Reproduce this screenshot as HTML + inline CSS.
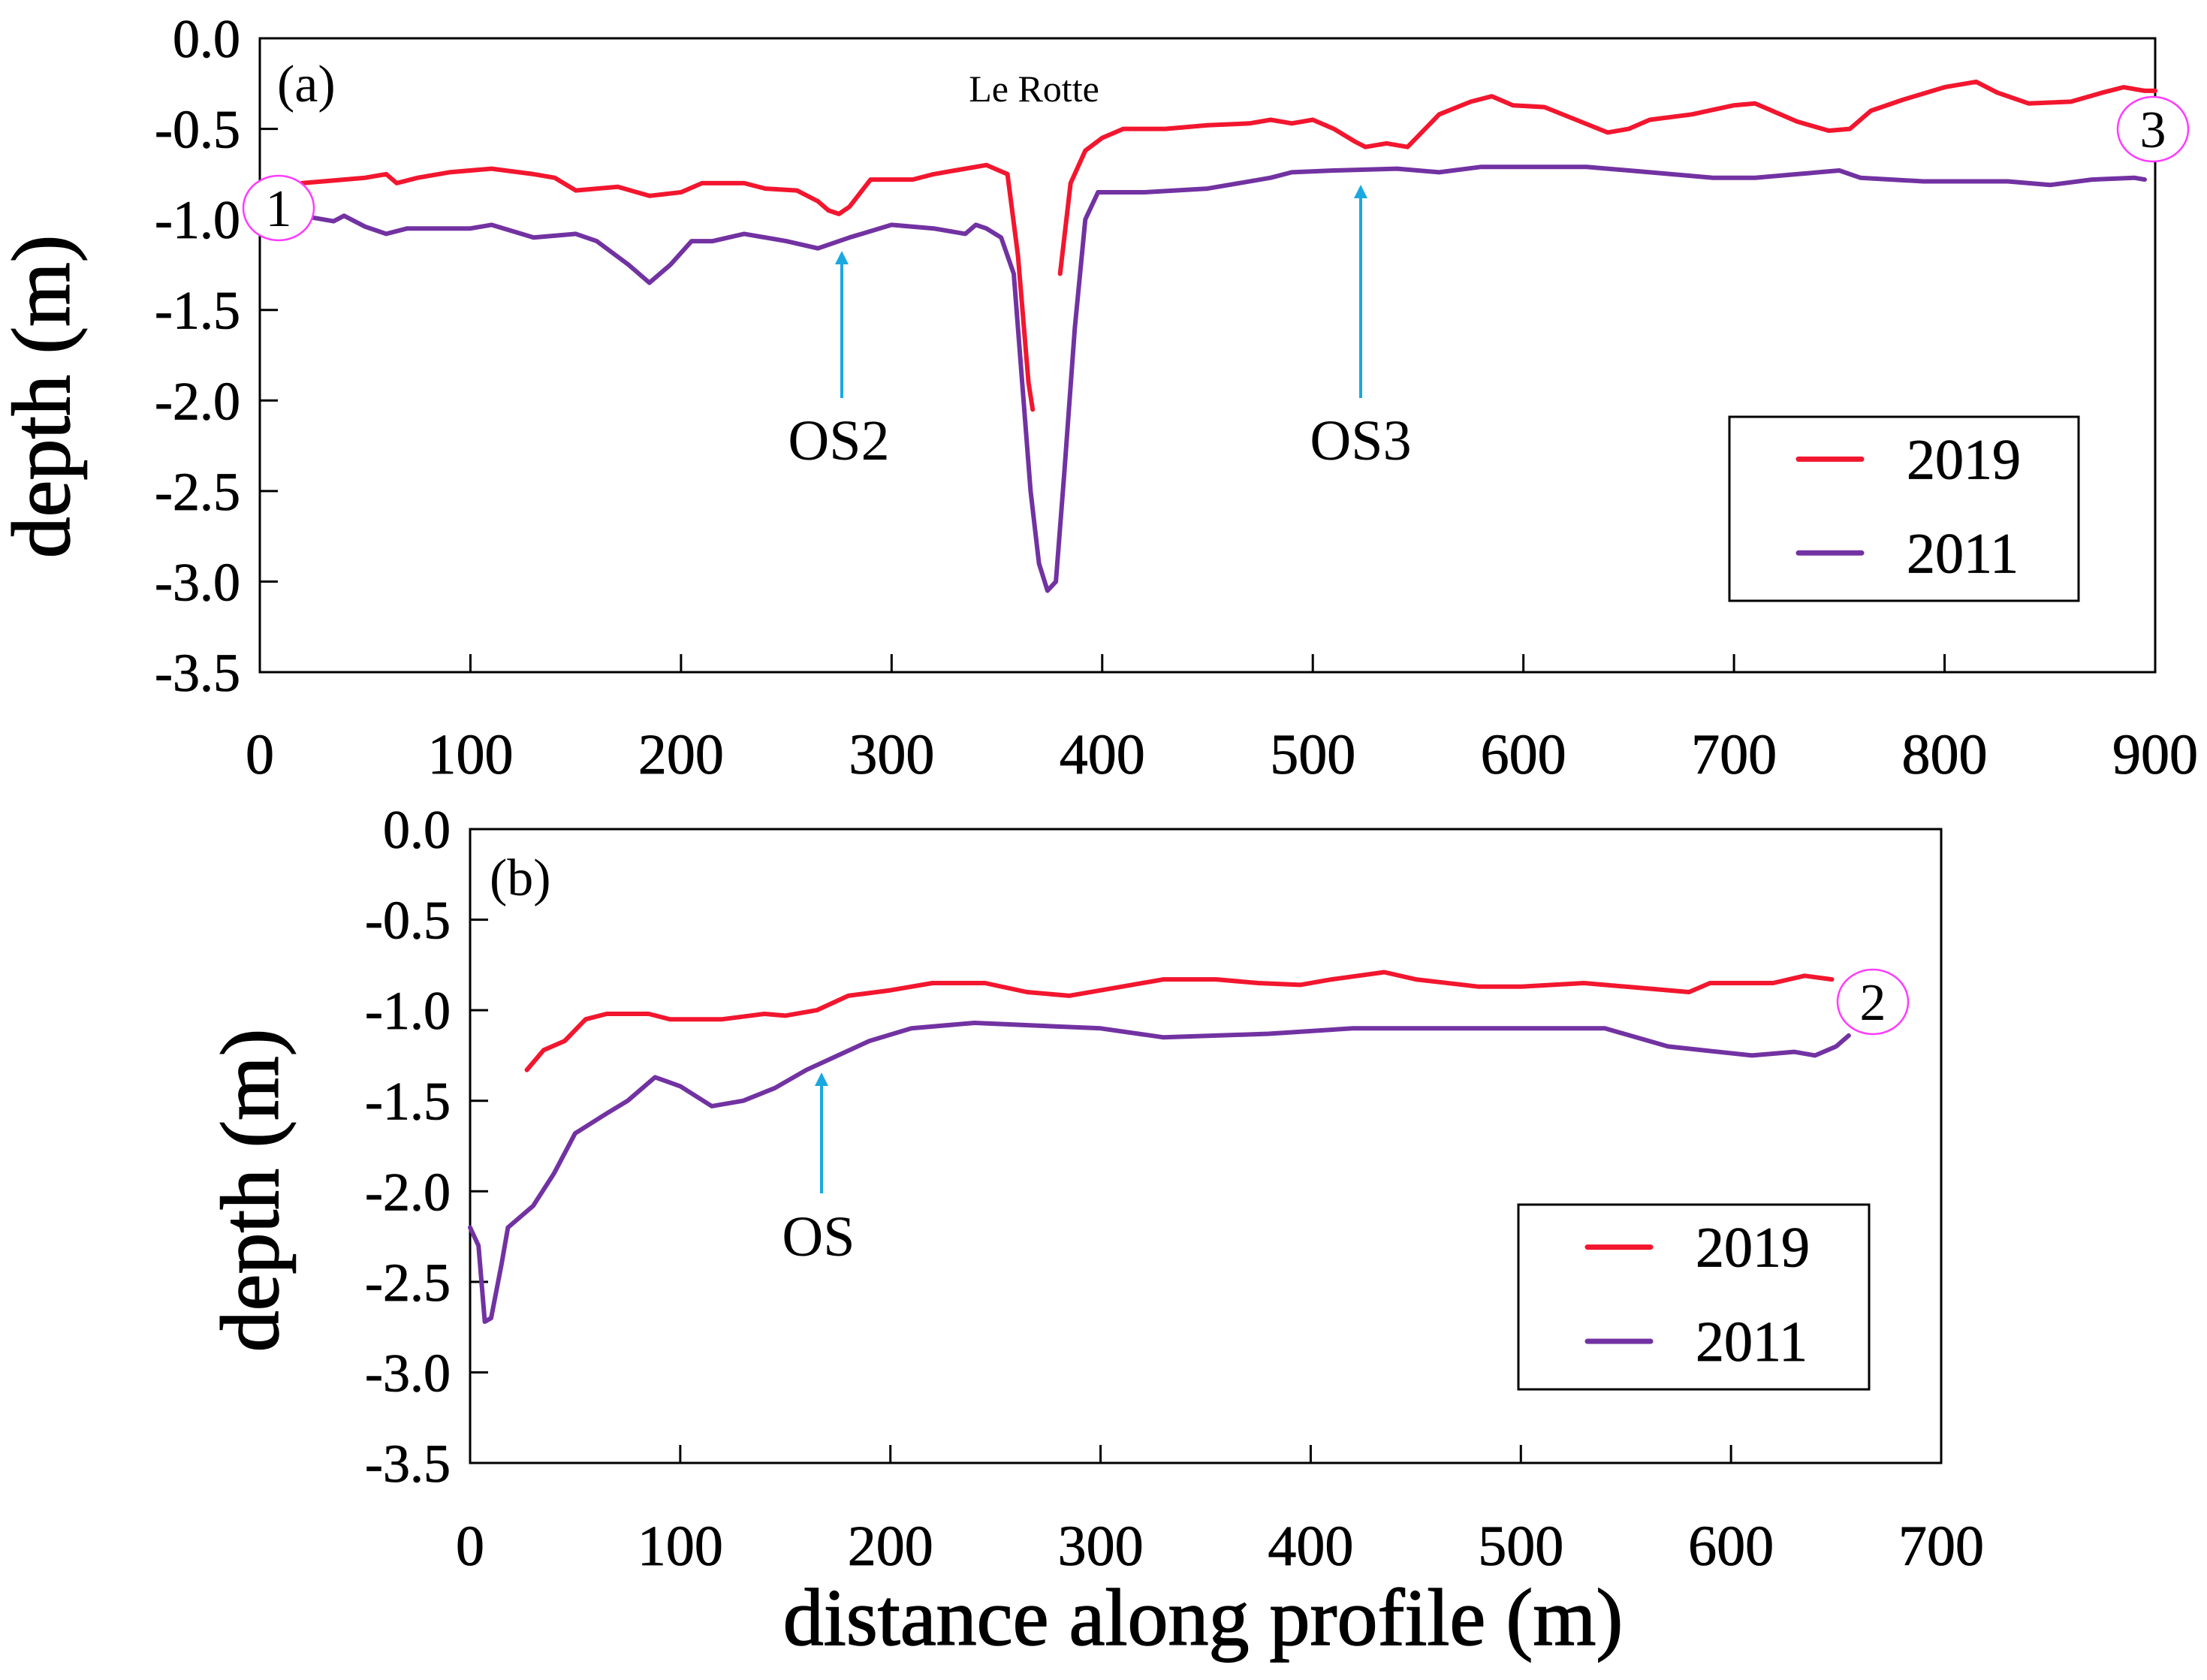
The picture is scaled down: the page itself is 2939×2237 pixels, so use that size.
<!DOCTYPE html>
<html><head><meta charset="utf-8"><style>
html,body{margin:0;padding:0;background:#fff;}
svg{display:block;font-family:"Liberation Serif",serif;}
</style></head><body>
<svg id="chart" width="2939" height="2237" viewBox="0 0 2939 2237" xmlns="http://www.w3.org/2000/svg">
<rect width="2939" height="2237" fill="#fff"/>
</svg>
<script>
const aX2019 = [10,20,40,50,60,65,75,90,110,130,140,150,170,185,200,210,230,240,255,265,270,275,280,290,310,320,330,345,355,360,365,367];
const aY2019 = [-0.85,-0.8,-0.78,-0.77,-0.75,-0.8,-0.77,-0.74,-0.72,-0.75,-0.77,-0.84,-0.82,-0.87,-0.85,-0.8,-0.8,-0.83,-0.84,-0.9,-0.95,-0.97,-0.93,-0.78,-0.78,-0.75,-0.73,-0.7,-0.75,-1.2,-1.9,-2.05];
const aX2019b = [380,385,392,400,410,430,450,470,480,490,500,510,520,525,535,545,560,575,585,595,610,625,640,650,660,680,700,710,730,745,755,765,780,800,815,825,840,860,875,885,895,900];
const aY2019b = [-1.3,-0.8,-0.62,-0.55,-0.5,-0.5,-0.48,-0.47,-0.45,-0.47,-0.45,-0.5,-0.57,-0.6,-0.58,-0.6,-0.42,-0.35,-0.32,-0.37,-0.38,-0.45,-0.52,-0.5,-0.45,-0.42,-0.37,-0.36,-0.46,-0.51,-0.5,-0.4,-0.34,-0.27,-0.24,-0.3,-0.36,-0.35,-0.3,-0.27,-0.29,-0.29];
const aX2011 = [10,25,35,40,50,60,70,100,110,130,150,160,175,185,195,205,215,230,250,265,280,300,320,335,340,345,352,358,362,366,370,374,378,382,387,392,398,420,450,480,490,510,540,560,580,600,630,660,690,710,730,750,760,790,830,850,870,890,895];
const aY2011 = [-0.98,-0.99,-1.01,-0.98,-1.04,-1.08,-1.05,-1.05,-1.03,-1.1,-1.08,-1.12,-1.25,-1.35,-1.25,-1.12,-1.12,-1.08,-1.12,-1.16,-1.1,-1.03,-1.05,-1.08,-1.03,-1.05,-1.1,-1.3,-1.9,-2.5,-2.9,-3.05,-3.0,-2.4,-1.6,-1.0,-0.85,-0.85,-0.83,-0.77,-0.74,-0.73,-0.72,-0.74,-0.71,-0.71,-0.71,-0.74,-0.77,-0.77,-0.75,-0.73,-0.77,-0.79,-0.79,-0.81,-0.78,-0.77,-0.78];
const bX2019 = [27,35,45,55,65,85,95,120,140,150,165,180,200,220,245,265,285,310,330,355,375,395,410,435,450,480,500,530,550,580,590,620,635,648];
const bY2019 = [-1.33,-1.22,-1.17,-1.05,-1.02,-1.02,-1.05,-1.05,-1.02,-1.03,-1.0,-0.92,-0.89,-0.85,-0.85,-0.9,-0.92,-0.87,-0.83,-0.83,-0.85,-0.86,-0.83,-0.79,-0.83,-0.87,-0.87,-0.85,-0.87,-0.9,-0.85,-0.85,-0.81,-0.83];
const bX2011 = [0,4,7,10,15,18,30,40,50,65,75,88,100,115,130,145,160,175,190,210,240,300,330,380,420,500,540,570,610,630,640,650,656];
const bY2011 = [-2.2,-2.3,-2.72,-2.7,-2.4,-2.2,-2.08,-1.9,-1.68,-1.57,-1.5,-1.37,-1.42,-1.53,-1.5,-1.43,-1.33,-1.25,-1.17,-1.1,-1.07,-1.1,-1.15,-1.13,-1.1,-1.1,-1.1,-1.2,-1.25,-1.23,-1.25,-1.2,-1.14];
const yTicks = [0,-0.5,-1,-1.5,-2,-2.5,-3,-3.5];
const yTickLabels = ["0.0","-0.5","-1.0","-1.5","-2.0","-2.5","-3.0","-3.5"];
const aXTicks = [0,100,200,300,400,500,600,700,800,900];
const bXTicks = [0,100,200,300,400,500,600,700];

const NS="http://www.w3.org/2000/svg";
const svg=document.getElementById('chart');
function mk(tag,attrs,parent,text){const e=document.createElementNS(NS,tag);for(const k in attrs)e.setAttribute(k,attrs[k]);if(text!==undefined)e.textContent=text;(parent||svg).appendChild(e);return e;}

function panel(p){
  const g=mk('g',{});
  
  
  const sx=v=>p.L+(v-p.xmin)/(p.xmax-p.xmin)*(p.R-p.L);
  const sy=v=>p.T+(0-v)/3.5*(p.B-p.T);
  const box=mk('rect',{x:p.L,y:p.T,width:p.R-p.L,height:p.B-p.T,fill:'none',stroke:'#000','stroke-width':3},g);
  
  
  yTicks.forEach((t,i)=>{
    const y=sy(t);
    if(i>0&&i<yTicks.length-1){const tk=mk('line',{x1:p.L,x2:p.L+24,y1:y,y2:y,stroke:'#000','stroke-width':3},g);
      }
    const lb=mk('text',{x:p.L-26,y:y+25,'text-anchor':'end','font-size':72,stroke:'#000','stroke-width':0.8},g,yTickLabels[i]);
    
    
  });
  p.xticks.forEach((t,i)=>{
    const x=sx(t);
    if(i>0&&i<p.xticks.length-1){const tk=mk('line',{x1:x,x2:x,y1:p.B,y2:p.B-24,stroke:'#000','stroke-width':3},g);
      }
    const lb=mk('text',{x:x,y:p.xLabelY,'text-anchor':'middle','font-size':76,stroke:'#000','stroke-width':0.8},g,String(t));
    
    
  });
  const yt=mk('text',{x:0,y:0,'text-anchor':'middle','font-size':110,stroke:'#000','stroke-width':1.5,transform:`translate(${p.ytX},${p.ytY}) rotate(-90)`},g,'depth (m)');
  
  
  p.series.forEach(s=>{
    s.segs.forEach(([xs,ys])=>{
      const d=xs.map((x,i)=>(i?'L':'M')+sx(x).toFixed(1)+' '+sy(ys[i]).toFixed(1)).join(' ');
      const path=mk('path',{d:d,fill:'none',stroke:s.color,'stroke-width':6,'stroke-linejoin':'round','stroke-linecap':'round'},g);
      
      
    });
  });
  return {sx,sy,g};
}

const RED='#f2162e', PUR='#7232a2';
const pa=panel({name:'panel-a',L:346,R:2870,T:51,B:895,xmin:0,xmax:900,xticks:aXTicks,xLabelY:1030,ytX:92,ytY:528,
  series:[{name:'line-2011',color:PUR,segs:[[aX2011,aY2011]]},{name:'line-2019',color:RED,segs:[[aX2019,aY2019],[aX2019b,aY2019b]]}]});
const pb=panel({name:'panel-b',L:626,R:2585,T:1104,B:1948,xmin:0,xmax:700,xticks:bXTicks,xLabelY:2084,ytX:370,ytY:1585,
  series:[{name:'line-2011',color:PUR,segs:[[bX2011,bY2011]]},{name:'line-2019',color:RED,segs:[[bX2019,bY2019]]}]});

function txt(x,y,s,size,name,anchor){const t=mk('text',{x:x,y:y,'font-size':size,'text-anchor':anchor||'start'},svg,s);
  return t;}
function arrow(x,y1,y2,name){const g=mk('g',{});
  mk('line',{x1:x,x2:x,y1:y1,y2:y2+14,stroke:'#1aa8e0','stroke-width':4},g);
  mk('path',{d:`M${x-9} ${y2+18} L${x} ${y2} L${x+9} ${y2+18} Z`,fill:'#1aa8e0'},g);}
function circ(cx,cy,s,name){const g=mk('g',{});
  mk('ellipse',{cx:cx,cy:cy,rx:47,ry:43,fill:'#fff',stroke:'#ff3bff','stroke-width':2.5},g);
  mk('text',{x:cx,y:cy+24,'font-size':70,'text-anchor':'middle'},g,s);}
function legend(x,y,w,h,name){const g=mk('g',{});
  mk('rect',{x:x,y:y,width:w,height:h,fill:'#fff',stroke:'#000','stroke-width':3},g);
  const l1=y+h*0.23,l2=y+h*0.74;
  mk('line',{x1:x+92,x2:x+176,y1:l1,y2:l1,stroke:RED,'stroke-width':7,'stroke-linecap':'round'},g);
  mk('line',{x1:x+92,x2:x+176,y1:l2,y2:l2,stroke:PUR,'stroke-width':7,'stroke-linecap':'round'},g);
  const a=mk('text',{x:x+236,y:l1+26,'font-size':76,stroke:'#000','stroke-width':0.8},g,'2019');
  const b=mk('text',{x:x+236,y:l2+26,'font-size':76,stroke:'#000','stroke-width':0.8},g,'2011');}

txt(369,135,'(a)',70,'panel-a-label');
txt(1377,135,'Le Rotte',50,'le-rotte-label','middle');
arrow(1121,530,334,'os2-arrow');
txt(1117,612,'OS2',76,'os2-label','middle');
arrow(1812,530,246,'os3-arrow');
txt(1812,612,'OS3',76,'os3-label','middle');
circ(371,277,'1','point-1-marker');
circ(2867,172,'3','point-3-marker');
legend(2303,555,465,245,'legend-a');

txt(652,1192,'(b)',70,'panel-b-label');
arrow(1094,1589,1428,'os-arrow');
txt(1090,1672,'OS',76,'os-label','middle');
circ(2494,1334,'2','point-2-marker');
legend(2022,1604,467,246,'legend-b');

const xt=txt(1602,2190,'distance along profile (m)',108,'x-axis-title','middle');
xt.setAttribute('stroke','#000');xt.setAttribute('stroke-width','1.5');
</script>
</body></html>
